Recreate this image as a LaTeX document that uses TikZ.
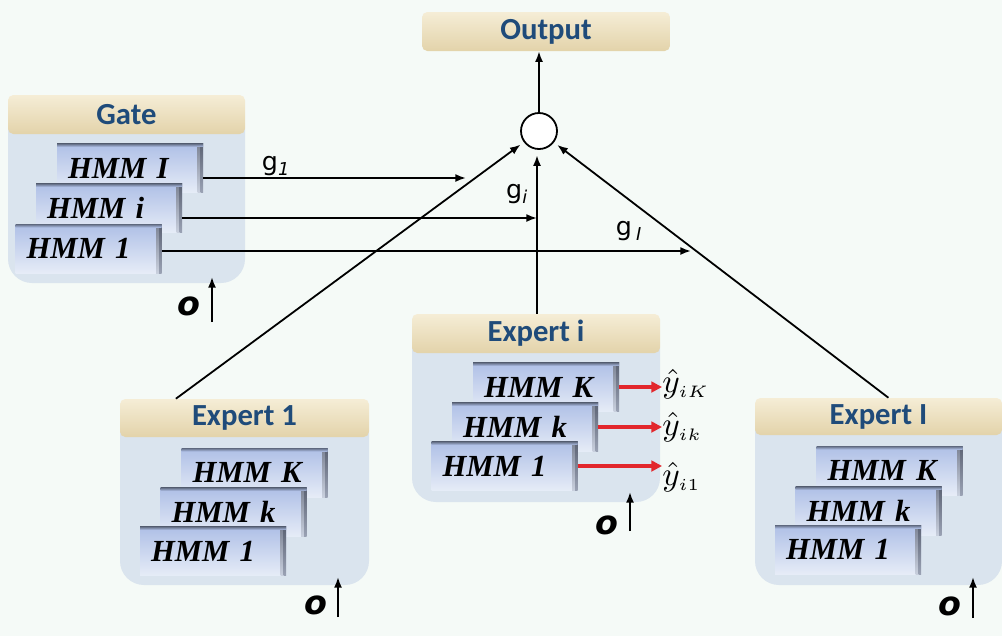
\documentclass[tikz,border=0pt]{standalone}
\usepackage{fontspec}
\setmainfont{Liberation Serif}
\newfontfamily\hdfont{Carlito}
\newfontfamily\gfont{DejaVu Sans}
\usetikzlibrary{arrows.meta,calc}
\definecolor{bg}{HTML}{F5FAF7}
\definecolor{tanT}{HTML}{F5EDD6}
\definecolor{tanB}{HTML}{E3D3AA}
\definecolor{bodyc}{HTML}{DAE4EE}
\definecolor{titlec}{HTML}{1F4B7A}
\definecolor{hmmT}{HTML}{AEBFE6}
\definecolor{hmmB}{HTML}{E6ECF7}
\definecolor{edgeA}{HTML}{7C8394}
\definecolor{edgeB}{HTML}{C9D0DE}
\definecolor{edgeC}{HTML}{5C6374}
\definecolor{edgeD}{HTML}{9AA2B4}
\definecolor{hmmTop}{HTML}{5E687E}
\definecolor{redar}{HTML}{E2262C}
\tikzset{
  hdr/.style={rounded corners=4pt, top color=tanT, bottom color=tanB, minimum height=39*0.75pt,
    font=\hdfont\bfseries\fontsize{23}{25}\selectfont, text=titlec, inner sep=0pt},
  hmmbox/.style={top color=hmmT, bottom color=hmmB, minimum height=49*0.75pt,
    text width=124*0.75pt, inner xsep=11*0.75pt, inner ysep=0pt, align=left,
    font=\bfseries\itshape\fontsize{23}{24}\selectfont,
    path picture={
      \shade[top color=edgeA, bottom color=edgeB] ([xshift=-4pt]path picture bounding box.north east) rectangle ([xshift=-1.8pt]path picture bounding box.south east);
      \shade[top color=edgeC, bottom color=edgeD] ([xshift=-1.8pt]path picture bounding box.north east) rectangle (path picture bounding box.south east);
      \shade[top color=hmmTop, bottom color=hmmT] (path picture bounding box.north west) rectangle ([yshift=-2.5pt]path picture bounding box.north east);}},
  bodyfill/.style={fill=bodyc, rounded corners=18pt},
  arr/.style={-{Latex[length=8pt,width=6pt]}, line width=1.35pt, black},
  redarr/.style={-{Triangle[length=8pt,width=8pt]}, line width=2.4pt, redar},
  glab/.style={font=\gfont\fontsize{19}{21}\selectfont, inner sep=0pt},
  olab/.style={font=\gfont\bfseries\itshape\fontsize{25}{26}\selectfont, inner sep=0pt},
  ylab/.style={inner sep=0pt, anchor=west},
  sumnode/.style={circle, draw, line width=1.35pt, fill=white, minimum size=36*0.75pt, inner sep=0pt}
}
\begin{document}
\begin{tikzpicture}[x=0.75pt,y=-0.75pt]
\useasboundingbox (0,0) rectangle (1002,636);
\fill[bg] (0,0) rectangle (1002,636);

% Output and summation
\node[hdr, minimum width=248*0.75pt] (out) at (546,31.5) {Output};
\node[sumnode] (sum) at (539,131) {};

% Gate panel
\fill[bodyfill] (8,105) -- (8,283) -- (245,283) -- (245,105) -- cycle;
\node[hdr, minimum width=237*0.75pt] (gatehd) at (126.5,114.5) {Gate};
\node[hmmbox] (gI) at (130,168) {HMM I};
\node[hmmbox] (gi) at (109,208) {HMM i};
\node[hmmbox] (g1) at (88.5,248.5) {HMM 1};

% Expert 1 panel
\fill[bodyfill] (120,409) -- (120,585) -- (369,585) -- (369,409) -- cycle;
\node[hdr, minimum width=249*0.75pt, minimum height=38*0.75pt] (e1hd) at (244.5,418) {Expert 1};
\node[hmmbox] (e1K) at (254.5,472.5) {HMM K};
\node[hmmbox] (e1k) at (233.5,512) {HMM k};
\node[hmmbox] (e11) at (213,551) {HMM 1};

% Expert i panel
\fill[bodyfill] (412,324) -- (412,502) -- (660,502) -- (660,324) -- cycle;
\node[hdr, minimum width=248*0.75pt] (eihd) at (536,333.5) {Expert i};
\node[hmmbox] (eiK) at (546,387) {HMM K};
\node[hmmbox] (eik) at (525,427) {HMM k};
\node[hmmbox] (ei1) at (504.5,466) {HMM 1};

% Expert I panel
\fill[bodyfill] (755,408) -- (755,585) -- (1002,585) -- (1002,408) -- cycle;
\node[hdr, minimum width=247*0.75pt, minimum height=37*0.75pt] (eIhd) at (878.5,416.5) {Expert I};
\node[hmmbox] (eIK) at (889.5,470.5) {HMM K};
\node[hmmbox] (eIk) at (868.5,511) {HMM k};
\node[hmmbox] (eI1) at (848,549.5) {HMM 1};

% y-hat labels
\node[ylab] (yK) at (662,384) {\scalebox{2.5}{$\hat{y}_{\scriptscriptstyle iK}$}};
\node[ylab] (yk) at (662,427) {\scalebox{2.5}{$\hat{y}_{\scriptscriptstyle ik}$}};
\node[ylab] (y1) at (662,477) {\scalebox{2.5}{$\hat{y}_{\scriptscriptstyle i1}$}};
\draw[redarr] (eiK.east) -- (eiK.east -| yK.west);
\draw[redarr] (eik.east) -- (eik.east -| yk.west);
\draw[redarr] (ei1.east) -- (ei1.east -| y1.west);

% gate outputs
\coordinate (g1e) at (466,178);
\coordinate (gie) at (537,218);
\coordinate (gle) at (691,251);
\draw[arr] (gI.east |- g1e) -- (g1e);
\draw[arr] (gi.east |- gie) -- (gie);
\draw[arr] (g1.east |- gle) -- (gle);
\node[glab] (lg1) at (276,166) {g\textsubscript{\itshape 1}};
\node[glab] (lgi) at (517,194) {g\textsubscript{\itshape i}};
\node[glab] (lgI) at (629,231) {g\,\textsubscript{\itshape I}};

% experts to summation
\draw[arr, shorten >=3pt] ($(e1hd.north west)!0.225!(e1hd.north east)$) -- (sum);
\draw[arr, shorten >=3pt] ($(eIhd.north west)!0.54!(eIhd.north east)$) -- (sum);
\draw[arr, shorten >=4pt] (eihd.north -| 537,0) -- (537,131 |- sum.south);
\draw[arr] (sum.north) -- (sum.north |- out.south);

% observation inputs
\coordinate (gin) at (212,277);
\coordinate (e1in) at (338,577);
\coordinate (eiin) at (630,492);
\coordinate (eIin) at (973,577);
\draw[arr] (gin |- 0,322) -- (gin);
\draw[arr] (e1in |- 0,617) -- (e1in);
\draw[arr] (eiin |- 0,531) -- (eiin);
\draw[arr] (eIin |- 0,618) -- (eIin);
\node[olab] (og) at (189,306) {o};
\node[olab] (o1) at (316,605) {o};
\node[olab] (oi) at (607,525) {o};
\node[olab] (oI) at (950,606) {o};
\end{tikzpicture}
\end{document}
